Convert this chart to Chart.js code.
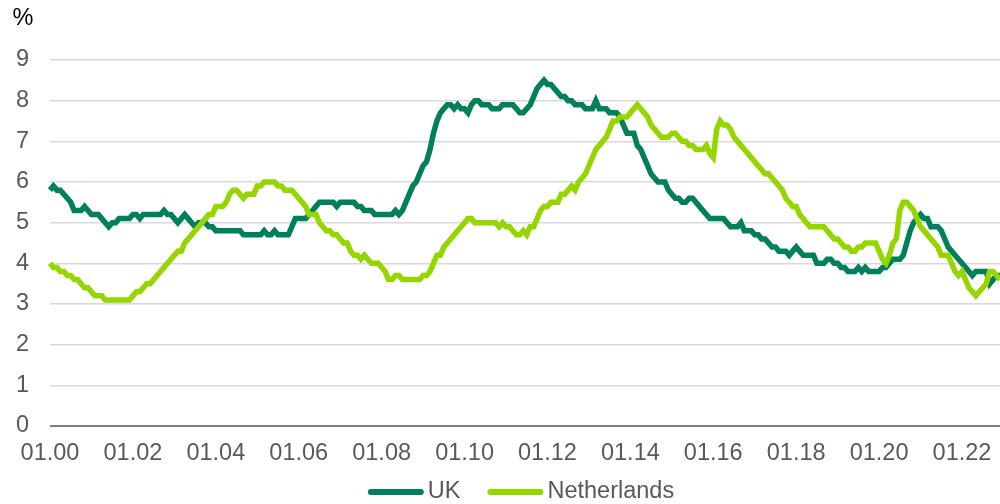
<!DOCTYPE html>
<html><head><meta charset="utf-8">
<script src="https://cdn.jsdelivr.net/npm/chart.js@4/dist/chart.umd.min.js"></script>
<style>html,body{margin:0;padding:0;background:#fff}#wrap{width:1000px;height:504px;position:relative}</style>
</head><body><div id="wrap"><canvas id="c" width="1000" height="504"></canvas></div>
<script>
const startYear = 2000;
const seriesNames = ["UK", "Netherlands"];
const tickLabels = ["01.00","01.02","01.04","01.06","01.08","01.10","01.12","01.14","01.16","01.18","01.20","01.22"];
const ukValues = [
5.8,5.9,5.8,5.8,5.7,5.6,5.5,5.3,5.3,5.3,5.4,5.3,
5.2,5.2,5.2,5.1,5.0,4.9,5.0,5.0,5.1,5.1,5.1,5.1,
5.2,5.2,5.1,5.2,5.2,5.2,5.2,5.2,5.2,5.3,5.2,5.2,
5.1,5.0,5.1,5.2,5.1,5.0,4.9,5.0,5.0,5.0,4.9,4.9,
4.8,4.8,4.8,4.8,4.8,4.8,4.8,4.8,4.7,4.7,4.7,4.7,
4.7,4.7,4.8,4.7,4.7,4.8,4.7,4.7,4.7,4.7,4.9,5.1,
5.1,5.1,5.1,5.2,5.3,5.4,5.5,5.5,5.5,5.5,5.5,5.4,
5.5,5.5,5.5,5.5,5.5,5.4,5.4,5.3,5.3,5.3,5.2,5.2,
5.2,5.2,5.2,5.2,5.3,5.2,5.3,5.5,5.7,5.9,6.0,6.2,
6.4,6.5,6.8,7.2,7.5,7.7,7.8,7.9,7.9,7.8,7.9,7.8,
7.8,7.7,7.9,8.0,8.0,7.9,7.9,7.9,7.8,7.8,7.8,7.9,
7.9,7.9,7.9,7.8,7.7,7.7,7.8,7.9,8.1,8.3,8.4,8.5,
8.4,8.4,8.3,8.2,8.1,8.1,8.0,8.0,7.9,7.9,7.9,7.8,
7.8,7.8,8.0,7.8,7.8,7.8,7.7,7.7,7.7,7.6,7.4,7.2,
7.2,7.2,6.9,6.8,6.6,6.4,6.2,6.1,6.0,6.0,6.0,5.8,
5.7,5.6,5.6,5.5,5.5,5.6,5.6,5.5,5.4,5.3,5.2,5.1,
5.1,5.1,5.1,5.1,5.0,4.9,4.9,4.9,5.0,4.8,4.8,4.8,
4.7,4.7,4.6,4.6,4.5,4.4,4.4,4.3,4.3,4.3,4.2,4.3,
4.4,4.3,4.2,4.2,4.2,4.2,4.0,4.0,4.0,4.1,4.1,4.0,
4.0,3.9,3.9,3.8,3.8,3.8,3.9,3.8,3.9,3.8,3.8,3.8,
3.8,3.9,3.9,4.0,4.1,4.1,4.1,4.2,4.5,4.8,5.0,5.1,
5.2,5.1,5.1,4.9,4.9,4.9,4.8,4.6,4.4,4.3,4.2,4.1,
4.0,3.9,3.8,3.7,3.8,3.8,3.8,3.8,3.5,3.6,3.7,3.7
];
const nlValues = [
4.0,3.9,3.9,3.8,3.8,3.7,3.7,3.6,3.6,3.5,3.4,3.4,
3.3,3.2,3.2,3.2,3.1,3.1,3.1,3.1,3.1,3.1,3.1,3.1,
3.2,3.3,3.3,3.4,3.5,3.5,3.6,3.7,3.8,3.9,4.0,4.1,
4.2,4.3,4.3,4.5,4.6,4.7,4.8,4.9,5.0,5.1,5.2,5.2,
5.4,5.4,5.4,5.5,5.7,5.8,5.8,5.7,5.6,5.7,5.7,5.7,
5.9,5.9,6.0,6.0,6.0,6.0,5.9,5.9,5.8,5.8,5.8,5.7,
5.6,5.5,5.4,5.2,5.2,5.2,5.0,4.9,4.8,4.8,4.7,4.7,
4.6,4.5,4.5,4.3,4.2,4.2,4.1,4.2,4.1,4.0,4.0,4.0,
3.9,3.8,3.6,3.6,3.7,3.7,3.6,3.6,3.6,3.6,3.6,3.6,
3.7,3.7,3.8,4.0,4.2,4.2,4.4,4.5,4.6,4.7,4.8,4.9,
5.0,5.1,5.1,5.0,5.0,5.0,5.0,5.0,5.0,5.0,4.9,5.0,
4.9,4.9,4.8,4.7,4.7,4.8,4.7,4.9,4.9,5.1,5.3,5.4,
5.4,5.5,5.5,5.5,5.7,5.7,5.8,5.9,5.8,6.0,6.1,6.2,
6.4,6.6,6.8,6.9,7.0,7.1,7.3,7.5,7.5,7.6,7.6,7.6,
7.7,7.8,7.9,7.8,7.7,7.6,7.4,7.3,7.2,7.1,7.1,7.1,
7.2,7.2,7.1,7.0,7.0,6.9,6.9,6.8,6.8,6.8,6.9,6.7,
6.6,7.3,7.5,7.4,7.4,7.3,7.1,7.0,6.9,6.8,6.7,6.6,
6.5,6.4,6.3,6.2,6.2,6.1,6.0,5.9,5.8,5.6,5.5,5.4,
5.4,5.2,5.1,5.0,4.9,4.9,4.9,4.9,4.9,4.8,4.7,4.6,
4.6,4.5,4.4,4.4,4.3,4.3,4.4,4.4,4.5,4.5,4.5,4.5,
4.3,4.1,4.0,4.2,4.5,4.6,5.3,5.5,5.5,5.4,5.3,5.1,
4.9,4.8,4.7,4.6,4.5,4.4,4.2,4.2,4.2,4.0,3.8,3.7,
3.8,3.6,3.4,3.3,3.2,3.3,3.4,3.5,3.8,3.8,3.7,3.6
];
const yTicks = [0,1,2,3,4,5,6,7,8,9];

const categories = [];
for (let i = 0; i < ukValues.length; i++) {
  const y = startYear + Math.floor(i / 12);
  const m = (i % 12) + 1;
  categories.push(String(m).padStart(2, '0') + '.' + String(y % 100).padStart(2, '0'));
}

const FONT = '"Liberation Sans", Arial, sans-serif';
const UK_COLOR = '#00805a';
const NL_COLOR = '#96d600';
const TXT = '#595959';

const decoPlugin = {
  id: 'deco',
  afterDraw(chart) {
    const ctx = chart.ctx;
    ctx.save();
    ctx.fillStyle = '#000';
    ctx.font = '23.5px ' + FONT;
    ctx.textBaseline = 'alphabetic';
    ctx.textAlign = 'left';
    ctx.fillText('%', 12.5, 24.5);

    ctx.textBaseline = 'middle';
    const items = chart.data.datasets.map(d => ({ label: d.label, color: d.borderColor, w: ctx.measureText(d.label).width }));
    const lineLen = 56, gap = 4, spacing = 27;
    let total = 0;
    items.forEach((it, k) => { total += lineLen + gap + it.w + (k < items.length - 1 ? spacing : 0); });
    let x = 521 - total / 2;
    const yc = 492;
    items.forEach(it => {
      ctx.strokeStyle = it.color;
      ctx.lineWidth = 6;
      ctx.lineCap = 'round';
      ctx.beginPath();
      ctx.moveTo(x + 3, yc);
      ctx.lineTo(x + lineLen - 3, yc);
      ctx.stroke();
      ctx.fillStyle = TXT;
      ctx.fillText(it.label, x + lineLen + gap, yc);
      x += lineLen + gap + it.w + spacing;
    });
    ctx.restore();
  }
};

new Chart(document.getElementById('c'), {
  type: 'line',
  data: {
    labels: categories,
    datasets: [
      { label: seriesNames[0], data: ukValues, borderColor: UK_COLOR, backgroundColor: UK_COLOR, borderWidth: 5.5, pointRadius: 0, tension: 0, fill: false, order: 1 },
      { label: seriesNames[1], data: nlValues, borderColor: NL_COLOR, backgroundColor: NL_COLOR, borderWidth: 5.5, pointRadius: 0, tension: 0, fill: false, order: 0 }
    ]
  },
  options: {
    responsive: false,
    devicePixelRatio: 1,
    animation: false,
    layout: { padding: { top: 60, left: 0, right: 0, bottom: 39 } },
    plugins: { legend: { display: false }, title: { display: false }, tooltip: { enabled: false } },
    scales: {
      x: {
        type: 'category',
        offset: false,
        grid: { display: false, drawTicks: false },
        border: { display: false },
        afterFit: s => { s.height = 39; s.paddingLeft = 0; s.paddingRight = 0; },
        ticks: {
          autoSkip: false, maxRotation: 0, minRotation: 0, padding: 16,
          color: TXT, font: { family: FONT, size: 23.5, lineHeight: 1 },
          callback: function (v) { const l = this.getLabelForValue(v); return tickLabels.includes(l) ? l : ''; }
        }
      },
      y: {
        min: 0, max: 9,
        afterFit: s => { s.width = 50; s.paddingTop = 0; s.paddingBottom = 0; },
        afterBuildTicks: s => { s.ticks = yTicks.map(v => ({ value: v })); },
        grid: {
          drawTicks: false,
          color: c => (c.tick && c.tick.value === 0) ? '#808080' : '#d9d9d9',
          lineWidth: c => (c.tick && c.tick.value === 0) ? 2 : 1.5
        },
        border: { display: false },
        ticks: { padding: 21, color: TXT, font: { family: FONT, size: 23.5 } }
      }
    }
  },
  plugins: [decoPlugin]
});
</script></body></html>
